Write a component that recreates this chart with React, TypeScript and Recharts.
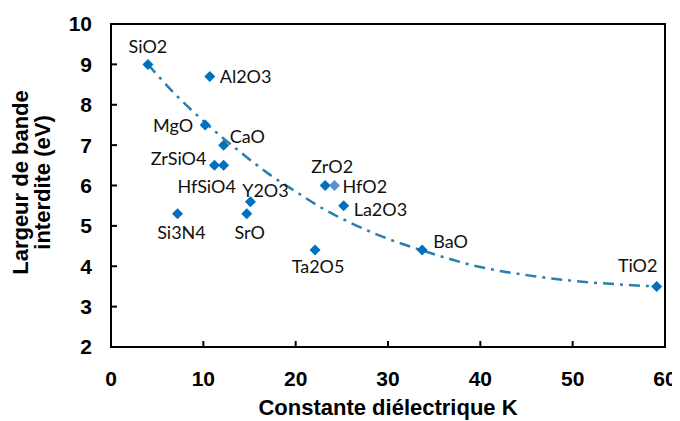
import React from "react";
import {
  ScatterChart,
  Scatter,
  XAxis,
  YAxis,
  ReferenceArea,
} from "recharts";

// materials: dielectric constant K vs band gap (eV)
const materials = [
  "SiO2", "Al2O3", "MgO", "CaO", "ZrSiO4", "HfSiO4", "Y2O3", "SrO",
  "Si3N4", "ZrO2", "HfO2", "La2O3", "Ta2O5", "BaO", "TiO2",
];
const kValues = [4, 10.7, 10.2, 12.2, 11.2, 12.2, 15.1, 14.7, 7.2, 23.2, 24.2, 25.2, 22.1, 33.7, 59.1];
const gapValues = [9, 8.7, 7.5, 7.0, 6.5, 6.5, 5.6, 5.3, 5.3, 6.0, 6.0, 5.5, 4.4, 4.4, 3.5];

// trend curve
const trendK = [4, 7, 10, 12, 14, 17, 20, 23, 26, 30, 34, 40, 45, 50, 55, 59];
const trendGap = [9.0, 8.25, 7.6, 7.2, 6.83, 6.3, 5.85, 5.42, 5.07, 4.68, 4.37, 3.98, 3.78, 3.64, 3.55, 3.5];

const xTicks = [0, 10, 20, 30, 40, 50, 60];
const yTicks = [2, 3, 4, 5, 6, 7, 8, 9, 10];

// where each label sits relative to its marker
const labelPlacement: Record<string, { anchor: "start" | "middle" | "end"; dx: number; dy: number }> = {
  SiO2: { anchor: "middle", dx: 0, dy: -18 },
  Al2O3: { anchor: "start", dx: 10, dy: 0 },
  MgO: { anchor: "end", dx: -12, dy: 0 },
  CaO: { anchor: "start", dx: 6, dy: -9 },
  ZrSiO4: { anchor: "end", dx: -8, dy: -7 },
  HfSiO4: { anchor: "middle", dx: -17, dy: 21 },
  Y2O3: { anchor: "middle", dx: 15, dy: -12 },
  SrO: { anchor: "middle", dx: 3, dy: 18 },
  Si3N4: { anchor: "middle", dx: 4, dy: 18 },
  ZrO2: { anchor: "middle", dx: 7, dy: -20 },
  HfO2: { anchor: "start", dx: 8, dy: 0 },
  La2O3: { anchor: "start", dx: 10, dy: 3 },
  Ta2O5: { anchor: "middle", dx: 3, dy: 16 },
  BaO: { anchor: "start", dx: 11, dy: -9 },
  TiO2: { anchor: "middle", dx: -19, dy: -21 },
};

const POINT_COLOR = "#0070c0";
const LIGHT_POINT = "#5b8fd0";
const TREND_COLOR = "#2a80ad";
const AXIS_FONT = "'Liberation Sans', Arial, sans-serif";

const points = materials.map((name, i) => ({ name, k: kValues[i], eg: gapValues[i] }));
const trend = trendK.map((k, i) => ({ k, eg: trendGap[i] }));

const DiamondPoint = (props: any) => {
  const { cx, cy, payload } = props;
  const r = 5.5;
  const name = payload?.name as string;
  const place = labelPlacement[name] || { anchor: "start", dx: 8, dy: 0 };
  const fill = name === "HfO2" ? LIGHT_POINT : POINT_COLOR;
  return (
    <g>
      <path d={`M${cx},${cy - r}L${cx + r},${cy}L${cx},${cy + r}L${cx - r},${cy}Z`} fill={fill} />
      <text
        x={cx + place.dx}
        y={cy + place.dy}
        textAnchor={place.anchor}
        dominantBaseline="central"
        fontFamily="Lato, 'Open Sans', sans-serif"
        fontSize={18}
        fill="#111"
      >
        {name}
      </text>
    </g>
  );
};

const YTitle = (props: any) => {
  const vb = props.viewBox || { y: 24, height: 323 };
  const cy = vb.y + vb.height / 2 - 3;
  return (
    <text
      transform={`translate(28, ${cy}) rotate(-90)`}
      textAnchor="middle"
      fontFamily={AXIS_FONT}
      fontWeight="bold"
      fontSize={22}
      fill="#000"
    >
      <tspan x={0} y={0}>Largeur de bande</tspan>
      <tspan x={0} dy={22}>interdite (eV)</tspan>
    </text>
  );
};

export default function App() {
  return (
    <div style={{ margin: "-8px 0 0 -8px", width: 680, height: 421, background: "#fff" }}>
      <ScatterChart width={680} height={421} margin={{ top: 24, right: 15, bottom: 0, left: 0 }}>
        <XAxis
          type="number"
          dataKey="k"
          domain={[0, 60]}
          ticks={xTicks}
          interval={0}
          height={74}
          axisLine={{ stroke: "#000", strokeWidth: 2 }}
          tickLine={{ stroke: "#000", strokeWidth: 2 }}
          tickSize={-6}
          tickMargin={30}
          tick={{ fill: "#000", fontFamily: AXIS_FONT, fontWeight: "bold", fontSize: 21 }}
          label={{
            value: "Constante diélectrique K",
            position: "insideBottom",
            offset: 6,
            fill: "#000",
            fontFamily: AXIS_FONT,
            fontWeight: "bold",
            fontSize: 22,
          }}
        />
        <YAxis
          type="number"
          dataKey="eg"
          domain={[2, 10]}
          ticks={yTicks}
          interval={0}
          width={111}
          axisLine={{ stroke: "#000", strokeWidth: 2 }}
          tickLine={{ stroke: "#000", strokeWidth: 2 }}
          tickSize={-6}
          tickMargin={25}
          tick={{ fill: "#000", fontFamily: AXIS_FONT, fontWeight: "bold", fontSize: 21 }}
          label={<YTitle />}
        />
        <ReferenceArea x1={0} x2={60} y1={2} y2={10} fill="none" stroke="#000" strokeWidth={2} />
        <Scatter
          data={trend}
          fill={TREND_COLOR}
          line={{ stroke: TREND_COLOR, strokeWidth: 2.5, strokeDasharray: "11 6 3 6" }}
          lineJointType="monotoneX"
          shape={() => <g />}
          isAnimationActive={false}
        />
        <Scatter data={points} fill={POINT_COLOR} shape={DiamondPoint} isAnimationActive={false} />
      </ScatterChart>
    </div>
  );
}
